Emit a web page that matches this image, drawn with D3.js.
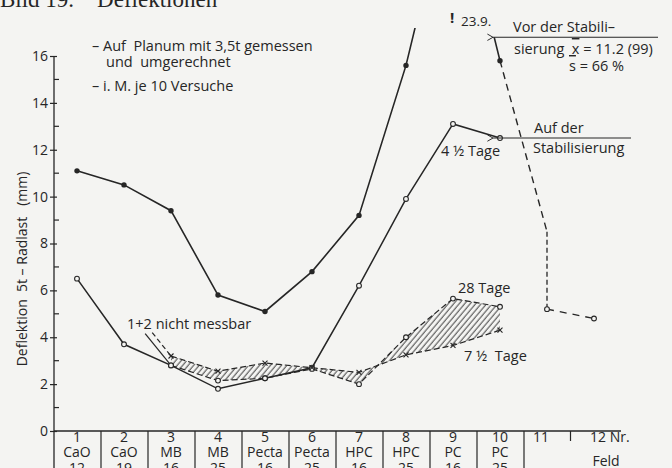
<!DOCTYPE html>
<html>
<head>
<meta charset="utf-8">
<script src="https://cdn.jsdelivr.net/npm/d3@7"></script>
<style>
  body { margin: 0; background: #f4f4f2; }
  svg { display: block; }
  text { font-family: "Open Sans", "DejaVu Sans", sans-serif; fill: #262626; white-space: pre; }
</style>
</head>
<body>
<svg width="672" height="468"></svg>
<script>
// Feld (category) labels, rows: Nr., Stabilisator, Menge
var feldNr = ["1", "2", "3", "4", "5", "6", "7", "8", "9", "10"];
var feldMittel = ["CaO", "CaO", "MB", "MB", "Pecta", "Pecta", "HPC", "HPC", "PC", "PC"];
var feldMenge = ["12", "19", "16", "25", "16", "25", "16", "25", "16", "25"];

var yMajor = [0, 2, 4, 6, 8, 10, 12, 14, 16];
var yMinor = [1, 3, 5, 7, 9, 11, 13, 15];

// Vor der Stabilisierung (filled dots), feld 9 off the scale (23.9)
var vorFeld = [1, 2, 3, 4, 5, 6, 7, 8, 9, 10];
var vorWert = [11.1, 10.5, 9.4, 5.8, 5.1, 6.8, 9.2, 15.6, 23.9, 15.8];
// continuation, dashed, feld 10 -> 12
var vorNachFeld = [10, 11, 11, 12];
var vorNachWert = [15.8, 8.5, 5.2, 4.8];

// Auf der Stabilisierung, 4 1/2 Tage (open circles, solid)
var tage4Feld = [1, 2, 3, 4, 5, 6, 7, 8, 9, 10];
var tage4Wert = [6.5, 3.7, 2.8, 1.8, 2.25, 2.7, 6.2, 9.9, 13.1, 12.5];

// 28 Tage (open circles, dashed) and 7 1/2 Tage (crosses, dashed)
var tage28Feld = [3, 4, 5, 6, 7, 8, 9, 10];
var tage28Wert = [2.8, 2.15, 2.25, 2.65, 2.0, 4.0, 5.65, 5.3];
var tage7Wert = [3.2, 2.55, 2.9, 2.7, 2.5, 3.25, 3.65, 4.3];

// "1+2 nicht messbar" leaders
var leader28 = [[2.45, 4.15], [3, 2.8]];
var leader7 = [[2.6, 4.2], [3, 3.2]];

var svg = d3.select("svg");
var ink = "#262626";
var paper = "#f4f4f2";

var x = d3.scaleLinear().domain([0.5, 12.5]).range([53.5, 617.5]);
var y = d3.scaleLinear().domain([0, 16]).range([431, 56]);

// title (mostly cut off at the top)
svg.append("text")
    .attr("x", 0).attr("y", 7)
    .style("font-family", "'Liberation Serif', serif")
    .style("font-size", "23px")
    .text("Bild 19.    Deflektionen");

var defs = svg.append("defs");
defs.append("pattern")
    .attr("id", "hatch")
    .attr("patternUnits", "userSpaceOnUse")
    .attr("width", 4.2).attr("height", 4.2)
    .attr("patternTransform", "rotate(40)")
    .append("line")
    .attr("x1", 1).attr("y1", 0).attr("x2", 1).attr("y2", 4.2)
    .attr("stroke", "#444").attr("stroke-width", 1);

defs.append("marker")
    .attr("id", "arrow")
    .attr("viewBox", "-1 -5 10 10")
    .attr("refX", 0).attr("refY", 0)
    .attr("markerWidth", 8).attr("markerHeight", 8)
    .attr("markerUnits", "userSpaceOnUse")
    .attr("orient", "auto-start-reverse")
    .append("path")
    .attr("d", "M 7,-4 L 0,0 L 7,4")
    .attr("fill", "none").attr("stroke", ink).attr("stroke-width", 1.2);

// clip for the off-scale peak at feld 9
var clip = defs.append("clipPath").attr("id", "peak");
clip.append("rect").attr("x", 0).attr("y", y(17.2)).attr("width", x(9)).attr("height", 468);
clip.append("rect").attr("x", x(9)).attr("y", y(16.8)).attr("width", 672 - x(9)).attr("height", 468);

// y axis
var yAxis = d3.axisLeft(y).tickValues(yMajor).tickSize(4).tickPadding(3);
var gy = svg.append("g").attr("transform", "translate(54,0)").call(yAxis);
gy.select(".domain").remove();
gy.selectAll(".tick line").attr("x2", 3).attr("x1", -4).attr("stroke", ink).attr("stroke-width", 1.2);
gy.selectAll(".tick text").style("font-size", "14px").style("font-family", "'Open Sans', sans-serif").attr("fill", ink).attr("x", -6);
gy.selectAll(".minor").data(yMinor).enter().append("line")
    .attr("x1", 0).attr("x2", 5)
    .attr("y1", function (d) { return y(d); }).attr("y2", function (d) { return y(d); })
    .attr("stroke", ink).attr("stroke-width", 1.2);
svg.append("line")
    .attr("x1", 54).attr("x2", 54).attr("y1", y(16)).attr("y2", 468)
    .attr("stroke", ink).attr("stroke-width", 1.3);

svg.append("text")
    .attr("transform", "translate(27,269) rotate(-90)")
    .attr("text-anchor", "middle")
    .style("font-size", "14px")
    .text("Deflektion  5t \u2013 Radlast   (mm)");

// x axis: baseline and field separators
svg.append("line")
    .attr("x1", 54).attr("x2", 621).attr("y1", y(0)).attr("y2", y(0))
    .attr("stroke", ink).attr("stroke-width", 1.3);
var seps = d3.range(1.5, 11, 1);
var xAxis = d3.axisBottom(x).tickValues(seps).tickSize(40).tickFormat("");
var gx = svg.append("g").attr("transform", "translate(0," + y(0) + ")").call(xAxis);
gx.select(".domain").remove();
gx.selectAll(".tick line").attr("stroke", ink).attr("stroke-width", 1.2);
svg.append("line")
    .attr("x1", x(11.5)).attr("x2", x(11.5)).attr("y1", y(0)).attr("y2", y(0) + 10)
    .attr("stroke", ink).attr("stroke-width", 1.2);

var lab = svg.append("g").style("font-size", "14px").attr("text-anchor", "middle");
feldNr.forEach(function (d, i) {
    var cx = x(i + 1);
    lab.append("text").attr("x", cx).attr("y", 442).text(d);
    lab.append("text").attr("x", cx).attr("y", 457).text(feldMittel[i]);
    lab.append("text").attr("x", cx).attr("y", 473).text(feldMenge[i]);
});
lab.append("text").attr("x", x(11) - 6).attr("y", 442).text("11");
lab.append("text").attr("x", x(12) - 4).attr("y", 442).attr("text-anchor", "start").text("12 Nr.");
lab.append("text").attr("x", x(12) + 12).attr("y", 466).text("Feld");

// hatched band between 28 Tage and 7 1/2 Tage
var band = d3.area()
    .x(function (d, i) { return x(tage28Feld[i]); })
    .y0(function (d, i) { return y(tage28Wert[i]); })
    .y1(function (d, i) { return y(tage7Wert[i]); });
svg.append("path")
    .datum(tage28Wert)
    .attr("d", band)
    .attr("fill", "url(#hatch)")
    .attr("stroke", "none");

var line = d3.line()
    .x(function (d) { return x(d[0]); })
    .y(function (d) { return y(d[1]); });

function pairs(fs, vs) { return fs.map(function (f, i) { return [f, vs[i]]; }); }

// Vor der Stabilisierung
svg.append("path")
    .datum(pairs(vorFeld, vorWert))
    .attr("d", line)
    .attr("clip-path", "url(#peak)")
    .attr("fill", "none").attr("stroke", ink).attr("stroke-width", 1.6);
svg.append("path")
    .datum(pairs(vorNachFeld.slice(0, 2), vorNachWert.slice(0, 2)))
    .attr("d", line)
    .attr("fill", "none").attr("stroke", ink).attr("stroke-width", 1.4)
    .attr("stroke-dasharray", "7,5");
svg.append("path")
    .datum(pairs(vorNachFeld.slice(1, 3), vorNachWert.slice(1, 3)))
    .attr("d", line)
    .attr("fill", "none").attr("stroke", ink).attr("stroke-width", 1.3)
    .attr("stroke-dasharray", "5,3");
svg.append("path")
    .datum(pairs(vorNachFeld.slice(2), vorNachWert.slice(2)))
    .attr("d", line)
    .attr("fill", "none").attr("stroke", ink).attr("stroke-width", 1.3)
    .attr("stroke-dasharray", "7,6");
svg.selectAll(".vor").data(pairs(vorFeld, vorWert).filter(function (d) { return d[1] <= 16; }))
    .enter().append("circle")
    .attr("cx", function (d) { return x(d[0]); })
    .attr("cy", function (d) { return y(d[1]); })
    .attr("r", 2.7).attr("fill", ink);
svg.selectAll(".vorNach").data(pairs(vorNachFeld.slice(2), vorNachWert.slice(2)))
    .enter().append("circle")
    .attr("cx", function (d) { return x(d[0]); })
    .attr("cy", function (d) { return y(d[1]); })
    .attr("r", 2.4).attr("fill", paper).attr("stroke", ink).attr("stroke-width", 1.1);

// 4 1/2 Tage
svg.append("path")
    .datum(pairs(tage4Feld, tage4Wert))
    .attr("d", line)
    .attr("fill", "none").attr("stroke", ink).attr("stroke-width", 1.5);

// 28 Tage and 7 1/2 Tage
svg.append("path")
    .datum(pairs(tage28Feld, tage28Wert))
    .attr("d", line)
    .attr("fill", "none").attr("stroke", ink).attr("stroke-width", 1.2)
    .attr("stroke-dasharray", "6,3");
svg.append("path")
    .datum(pairs(tage28Feld, tage7Wert))
    .attr("d", line)
    .attr("fill", "none").attr("stroke", ink).attr("stroke-width", 1.2)
    .attr("stroke-dasharray", "6,3");
svg.append("path")
    .datum(leader28).attr("d", line)
    .attr("fill", "none").attr("stroke", ink).attr("stroke-width", 1.2);
svg.append("path")
    .datum(leader7).attr("d", line)
    .attr("fill", "none").attr("stroke", ink).attr("stroke-width", 1.2)
    .attr("stroke-dasharray", "5,3");

svg.selectAll(".t4").data(pairs(tage4Feld, tage4Wert))
    .enter().append("circle")
    .attr("cx", function (d) { return x(d[0]); })
    .attr("cy", function (d) { return y(d[1]); })
    .attr("r", 2.4).attr("fill", paper).attr("stroke", ink).attr("stroke-width", 1.1);
svg.selectAll(".t28").data(pairs(tage28Feld, tage28Wert))
    .enter().append("circle")
    .attr("cx", function (d) { return x(d[0]); })
    .attr("cy", function (d) { return y(d[1]); })
    .attr("r", 2.4).attr("fill", paper).attr("stroke", ink).attr("stroke-width", 1.1);
svg.selectAll(".t7").data(pairs(tage28Feld, tage7Wert))
    .enter().append("path")
    .attr("transform", function (d) { return "translate(" + x(d[0]) + "," + y(d[1]) + ")"; })
    .attr("d", "M-2.5,-2.5L2.5,2.5M-2.5,2.5L2.5,-2.5")
    .attr("stroke", ink).attr("stroke-width", 1.1);

// notes
var notes = svg.append("g").style("font-size", "14.5px");
notes.append("text").attr("x", 92).attr("y", 51).text("\u2013 Auf  Planum mit 3,5t gemessen");
notes.append("text").attr("x", 106).attr("y", 67).text("und  umgerechnet");
notes.append("text").attr("x", 92).attr("y", 91).text("\u2013 i. M. je 10 Versuche");

svg.append("text").attr("x", x(9) - 3).attr("y", 23)
    .style("font-size", "15px").style("font-weight", "bold").text("!");
svg.append("text").attr("x", x(9) + 8).attr("y", 26).style("font-size", "13.5px").text("23.9.");

// Vor der Stabilisierung leader
svg.append("line")
    .attr("x1", x(10) - 7).attr("y1", y(16.8)).attr("x2", 658).attr("y2", y(16.8))
    .attr("stroke", ink).attr("stroke-width", 1.1)
    .attr("marker-start", "url(#arrow)");
var vor = svg.append("g").style("font-size", "14.5px");
vor.append("text").attr("x", 513).attr("y", 32).text("Vor der Stabili\u2013");
var s2 = vor.append("text").attr("x", 514).attr("y", 54);
s2.append("tspan").text("sierung  ");
s2.append("tspan").style("text-decoration", "overline").text("x");
s2.append("tspan").text(" = 11.2 (99)");
var s3 = vor.append("text").attr("x", 569).attr("y", 71);
s3.append("tspan").style("text-decoration", "overline").text("s");
s3.append("tspan").text(" = 66 %");

// Auf der Stabilisierung leader
svg.append("line")
    .attr("x1", x(10) - 7).attr("y1", y(12.5)).attr("x2", 631).attr("y2", y(12.5))
    .attr("stroke", ink).attr("stroke-width", 1.1)
    .attr("marker-start", "url(#arrow)");
var auf = svg.append("g").style("font-size", "14.5px");
auf.append("text").attr("x", 534).attr("y", 133).text("Auf der");
auf.append("text").attr("x", 533).attr("y", 153).text("Stabilisierung");
auf.append("text").attr("x", 441).attr("y", 156).text("4 \u00bd Tage");

svg.append("text").attr("x", 458).attr("y", 293).style("font-size", "14.5px").text("28 Tage");
svg.append("text").attr("x", 464).attr("y", 361).style("font-size", "14.5px").text("7 \u00bd  Tage");
svg.append("text").attr("x", 127).attr("y", 329).style("font-size", "14.5px").text("1+2 nicht messbar");
</script>
</body>
</html>
